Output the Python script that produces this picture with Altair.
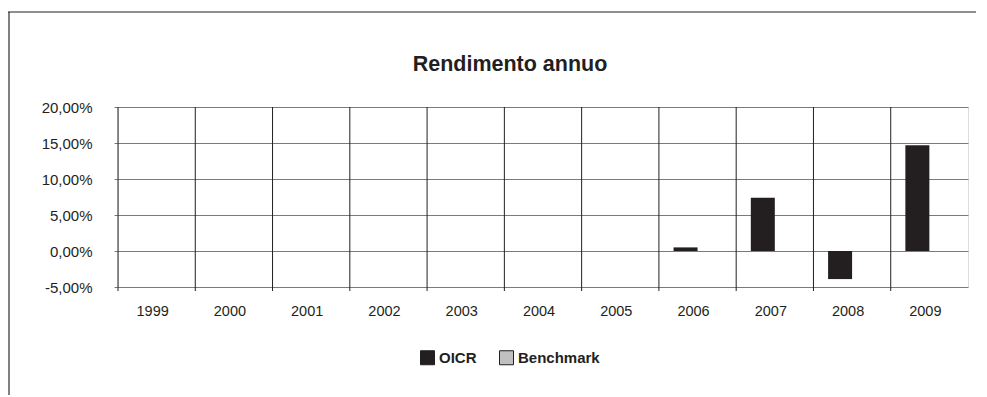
import altair as alt
import pandas as pd

years = ['1999', '2000', '2001', '2002', '2003', '2004', '2005', '2006', '2007', '2008', '2009']
series_names = ['OICR', 'Benchmark']
oicr = [None, None, None, None, None, None, None, 0.005, 0.074, -0.039, 0.147]
benchmark = [None] * 11
y_ticks = [-0.05, 0.0, 0.05, 0.10, 0.15, 0.20]
title_text = 'Rendimento annuo'

rows = []
for i, y in enumerate(years):
    rows.append({'year': y, 'series': 'OICR', 'value': oicr[i]})
    rows.append({'year': y, 'series': 'Benchmark', 'value': benchmark[i]})
df = pd.DataFrame(rows)
years_df = pd.DataFrame({'year': years})
one = pd.DataFrame({'t': [title_text]})

FONT = 'Liberation Sans'
DARK = '#231f20'

xscale = alt.Scale(domain=years, paddingInner=0, paddingOuter=0)

bars = alt.Chart(df).mark_bar().encode(
    x=alt.X('year:N', sort=years, scale=xscale,
            axis=alt.Axis(title=None, labelAngle=0, ticks=False, domain=False, grid=False,
                          labelPadding=17, labelOffset=-4, labelFontSize=14.5, labelColor=DARK,
                          labelFont=FONT)),
    xOffset=alt.XOffset('series:N', sort=series_names,
                        scale=alt.Scale(domain=series_names, paddingInner=0, paddingOuter=0.61)),
    y=alt.Y('value:Q', scale=alt.Scale(domain=[-0.05, 0.2], nice=False, zero=False),
            axis=alt.Axis(title=None, values=y_ticks, grid=True, gridColor='#7a7a7a', gridWidth=1.2,
                          tickSize=4, tickColor='#7a7a7a', domain=False, labelPadding=22,
                          labelFontSize=15, labelColor=DARK, labelFont=FONT,
                          labelExpr="(datum.value < -0.0001 ? '-' : '') + replace(format(abs(datum.value), '.2%'), '.', ',')")),
    color=alt.Color('series:N', sort=series_names,
                    scale=alt.Scale(domain=series_names, range=[DARK, '#c0c0c0']),
                    legend=alt.Legend(title=None, orient='none', legendX=302, legendY=243,
                                      direction='horizontal', symbolType='square', symbolSize=196,
                                      symbolStrokeColor=DARK, symbolStrokeWidth=1, symbolOpacity=1,
                                      labelFontSize=15, labelFontWeight='bold', labelFont=FONT,
                                      labelColor=DARK, labelOffset=4, columnPadding=20, padding=0))
)

vlines = alt.Chart(years_df).mark_rule(color=DARK, strokeWidth=1).encode(
    x=alt.X('year:N', sort=years, scale=xscale, bandPosition=0),
    y=alt.value(0),
    y2=alt.value(184)
)

title = alt.Chart(one).mark_text(font=FONT, fontSize=21.5, fontWeight='bold', color=DARK,
                                 align='center', baseline='alphabetic').encode(
    x=alt.value(392), y=alt.value(-36), text='t:N'
)

left_border = alt.Chart(one).mark_rule(color='#808080', strokeWidth=2).encode(
    x=alt.value(-109), y=alt.value(-95), y2=alt.value(300)
)
top_border = alt.Chart(one).mark_rule(color=DARK, strokeWidth=1).encode(
    x=alt.value(-110), x2=alt.value(858), y=alt.value(-95)
)

chart = alt.layer(bars, vlines, title, left_border, top_border).properties(
    width=850, height=180, autosize='none',
    padding={'left': 110, 'top': 99, 'right': 10, 'bottom': 108}
).configure_view(stroke=DARK, strokeWidth=1).configure(font=FONT)

chart.save('out.html', embed_options={'renderer': 'svg', 'actions': False})
